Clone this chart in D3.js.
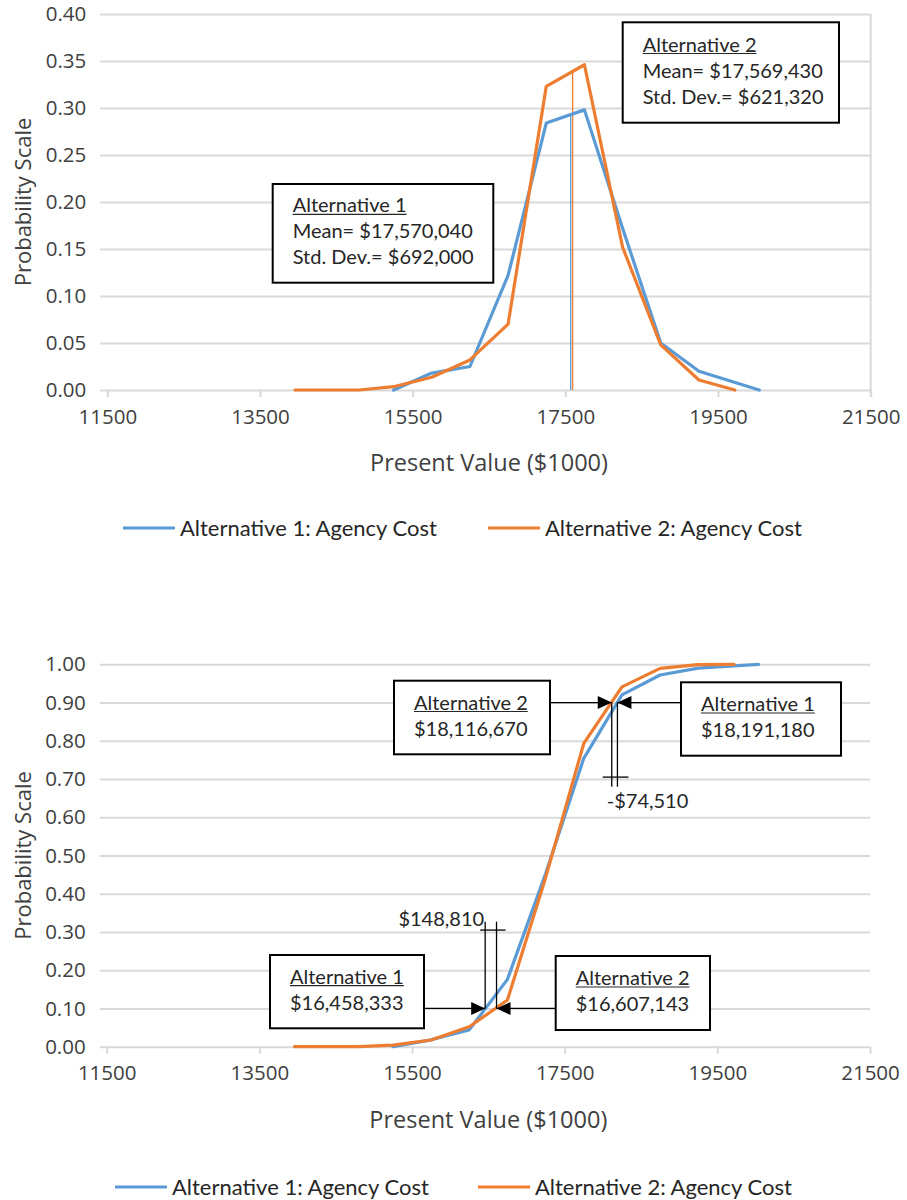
<!DOCTYPE html>
<html>
<head>
<meta charset="utf-8">
<script src="https://cdn.jsdelivr.net/npm/d3@7"></script>
<style>
  body { margin: 0; background: #fff; }
  svg { display: block; }
</style>
</head>
<body>
<svg id="chart" width="907" height="1200"></svg>
<script>
// Present value of agency cost, in $1000
const xTicks = [11500, 13500, 15500, 17500, 19500, 21500];
const pdfTicks = [0, 0.05, 0.10, 0.15, 0.20, 0.25, 0.30, 0.35, 0.40];
const cdfTicks = [0, 0.1, 0.2, 0.3, 0.4, 0.5, 0.6, 0.7, 0.8, 0.9, 1.0];

const seriesNames = ["Alternative 1: Agency Cost", "Alternative 2: Agency Cost"];
const altNames = ["Alternative 1", "Alternative 2"];

// Alternative 1
const alt1X   = [15250, 15750, 16250, 16750, 17250, 17750, 18250, 18750, 19250, 20040];
const alt1Pdf = [0, 0.018, 0.025, 0.122, 0.284, 0.298, 0.172, 0.050, 0.020, 0];
const alt1Cdf = [0, 0.018, 0.044, 0.176, 0.452, 0.754, 0.920, 0.972, 0.990, 1.0];

// Alternative 2
const alt2X   = [13960, 14800, 15250, 15750, 16250, 16750, 17250, 17750, 18250, 18750, 19250, 19720];
const alt2Pdf = [0, 0, 0.0035, 0.0135, 0.032, 0.070, 0.323, 0.346, 0.152, 0.048, 0.0106, 0];
const alt2Cdf = [0, 0, 0.004, 0.0175, 0.052, 0.122, 0.442, 0.793, 0.941, 0.9895, 0.999, 1.0];

// Summary statistics ($1000)
const means = [17570.04, 17569.43];
const stdDevs = [692.0, 621.32];
const p10 = [16458.333, 16607.143];
const p90 = [18191.18, 18116.67];

const colors = ["#5B9BD5", "#ED7D31"];
const axisFont = "'Open Sans', 'Noto Sans', sans-serif";
const noteFont = "Lato, 'Noto Sans', sans-serif";
const textColor = "#404040";

const dollars = v => (v < 0 ? "-" : "") + "$" + d3.format(",")(Math.round(Math.abs(v) * 1000));

const svg = d3.select("#chart");

function buildFrame(cfg) {
  const x = d3.scaleLinear().domain([11500, 21500]).range([cfg.left, cfg.right]);
  const y = d3.scaleLinear().domain([0, cfg.yMax]).range([cfg.bottom, cfg.top]);
  const g = svg.append("g");

  // horizontal gridlines with left tick stubs and labels
  g.append("g")
    .attr("transform", `translate(${cfg.left - 7},0)`)
    .call(d3.axisLeft(y).tickValues(cfg.yTicks).tickFormat(d3.format(".2f"))
      .tickSize(-(cfg.right - cfg.left + 7)).tickPadding(14))
    .call(s => s.select(".domain").remove())
    .call(s => s.selectAll("line").attr("stroke", "#d9d9d9").attr("stroke-width", 2))
    .call(s => s.selectAll("text").attr("font-family", axisFont).attr("font-size", 20.5).attr("fill", textColor));

  // x tick marks and labels
  g.append("g")
    .attr("transform", `translate(0,${cfg.bottom})`)
    .call(d3.axisBottom(x).tickValues(xTicks).tickFormat(d3.format("d"))
      .tickSize(7).tickPadding(12))
    .call(s => s.select(".domain").remove())
    .call(s => s.selectAll("line").attr("stroke", "#d9d9d9").attr("stroke-width", 2))
    .call(s => s.selectAll("text").attr("font-family", axisFont).attr("font-size", 20.5).attr("fill", textColor));

  if (cfg.rightBorder) {
    g.append("line")
      .attr("x1", cfg.right).attr("x2", cfg.right)
      .attr("y1", cfg.top).attr("y2", cfg.bottom + 7)
      .attr("stroke", "#d9d9d9").attr("stroke-width", 2);
  }

  // axis titles
  g.append("text")
    .attr("x", (cfg.left + cfg.right) / 2).attr("y", cfg.bottom + 81)
    .attr("text-anchor", "middle")
    .attr("font-family", axisFont).attr("font-size", 23.5).attr("fill", textColor)
    .text("Present Value ($1000)");
  g.append("text")
    .attr("transform", `translate(31,${(cfg.top + cfg.bottom) / 2}) rotate(-90)`)
    .attr("text-anchor", "middle")
    .attr("font-family", axisFont).attr("font-size", 22).attr("fill", textColor)
    .text("Probability Scale");

  return { g, x, y };
}

function drawSeries(f, xs, ys, color) {
  const line = d3.line().x((d, i) => f.x(xs[i])).y(d => f.y(d));
  f.g.append("path")
    .datum(ys)
    .attr("d", line)
    .attr("fill", "none")
    .attr("stroke", color)
    .attr("stroke-width", 3.2)
    .attr("stroke-linejoin", "round")
    .attr("stroke-linecap", "round");
}

function drawLegend(y, x0, x1) {
  const g = svg.append("g");
  [x0, x1].forEach((lx, i) => {
    g.append("line")
      .attr("x1", lx).attr("x2", lx + 52).attr("y1", y).attr("y2", y)
      .attr("stroke", colors[i]).attr("stroke-width", 3.2);
    g.append("text")
      .attr("x", lx + 57).attr("y", y + 8)
      .attr("font-family", noteFont).attr("font-size", 22).attr("fill", "#262626")
      .text(seriesNames[i]);
  });
}

function noteBox(g, bx, by, bw, bh, lines) {
  g.append("rect")
    .attr("x", bx).attr("y", by).attr("width", bw).attr("height", bh)
    .attr("fill", "#fff").attr("stroke", "#000").attr("stroke-width", 2);
  const tx = bx + 20;
  const first = by + (bh - (lines.length - 1) * 26) / 2 + 5;
  lines.forEach((t, i) => {
    const el = g.append("text")
      .attr("x", tx).attr("y", first + i * 26)
      .attr("font-family", noteFont).attr("font-size", 20).attr("fill", "#262626")
      .text(t);
    if (i === 0) {
      const w = el.node().getComputedTextLength();
      g.append("line")
        .attr("x1", tx).attr("x2", tx + w)
        .attr("y1", first + 2).attr("y2", first + 2)
        .attr("stroke", "#262626").attr("stroke-width", 1.2);
    }
  });
}

function interpAt(xs, ys, v) {
  const i = Math.max(1, d3.bisectLeft(xs, v));
  const t = (v - xs[i - 1]) / (xs[i] - xs[i - 1]);
  return ys[i - 1] + t * (ys[i] - ys[i - 1]);
}

function arrowHead(g, tipX, yy, dir) {
  g.append("path")
    .attr("d", `M${tipX},${yy} L${tipX - dir * 14},${yy - 6.5} L${tipX - dir * 14},${yy + 6.5} Z`)
    .attr("fill", "#000");
}

function thin(g, x1, y1, x2, y2) {
  g.append("line")
    .attr("x1", x1).attr("y1", y1).attr("x2", x2).attr("y2", y2)
    .attr("stroke", "#000").attr("stroke-width", 1.3);
}

// ---------- Probability density ----------
const pdfFrame = buildFrame({ left: 107.3, right: 870.7, top: 14, bottom: 390, yMax: 0.40, yTicks: pdfTicks, rightBorder: true });

// mean markers, from the axis up to each curve (orange nudged so both show)
[[alt1X, alt1Pdf, 0], [alt2X, alt2Pdf, 2]].forEach(([xs, ys, nudge], i) => {
  const mx = pdfFrame.x(means[i]) + nudge;
  pdfFrame.g.append("line")
    .attr("x1", mx).attr("x2", mx)
    .attr("y1", pdfFrame.y(0)).attr("y2", pdfFrame.y(interpAt(xs, ys, means[i])))
    .attr("stroke", colors[i]).attr("stroke-width", 1.3);
});

drawSeries(pdfFrame, alt1X, alt1Pdf, colors[0]);
drawSeries(pdfFrame, alt2X, alt2Pdf, colors[1]);

noteBox(pdfFrame.g, 272.7, 184, 220.6, 98.7,
  [altNames[0], "Mean= " + dollars(means[0]), "Std. Dev.= " + dollars(stdDevs[0])]);
noteBox(pdfFrame.g, 622.7, 22.3, 216.3, 100.4,
  [altNames[1], "Mean= " + dollars(means[1]), "Std. Dev.= " + dollars(stdDevs[1])]);

drawLegend(528, 123, 488);

// ---------- Cumulative probability ----------
const cdfFrame = buildFrame({ left: 106.7, right: 870, top: 664.3, bottom: 1046.7, yMax: 1.0, yTicks: cdfTicks, rightBorder: false });

drawSeries(cdfFrame, alt1X, alt1Cdf, colors[0]);
drawSeries(cdfFrame, alt2X, alt2Cdf, colors[1]);

const ann = cdfFrame.g.append("g");

// 90th percentile
const y90 = cdfFrame.y(0.9);
const a2x90 = cdfFrame.x(p90[1]), a1x90 = cdfFrame.x(p90[0]);
noteBox(ann, 394, 680.7, 156, 73.6, [altNames[1], dollars(p90[1])]);
noteBox(ann, 681, 682.3, 160, 73.4, [altNames[0], dollars(p90[0])]);
thin(ann, 550, y90, a2x90, y90);
arrowHead(ann, a2x90, y90, 1);
thin(ann, 681, y90, a1x90, y90);
arrowHead(ann, a1x90, y90, -1);
thin(ann, a2x90, y90, a2x90, cdfFrame.y(0.68));
thin(ann, a1x90, y90, a1x90, cdfFrame.y(0.68));
thin(ann, a2x90 - 9, cdfFrame.y(0.705), a1x90 + 11, cdfFrame.y(0.705));
ann.append("text")
  .attr("x", a2x90 - 5).attr("y", cdfFrame.y(0.705) + 31)
  .attr("font-family", noteFont).attr("font-size", 20).attr("fill", "#262626")
  .text(dollars(p90[1] - p90[0]));

// 10th percentile
const y10 = cdfFrame.y(0.1);
const a1x10 = cdfFrame.x(p10[0]), a2x10 = cdfFrame.x(p10[1]);
noteBox(ann, 270, 955, 154, 73.3, [altNames[0], dollars(p10[0])]);
noteBox(ann, 555.7, 956, 154.3, 74, [altNames[1], dollars(p10[1])]);
thin(ann, 424, y10, a1x10, y10);
arrowHead(ann, a1x10, y10, 1);
thin(ann, 555.7, y10, a2x10, y10);
arrowHead(ann, a2x10, y10, -1);
thin(ann, a1x10, y10, a1x10, cdfFrame.y(0.327));
thin(ann, a2x10, y10, a2x10, cdfFrame.y(0.327));
thin(ann, a1x10 - 5, cdfFrame.y(0.305), a2x10 + 9, cdfFrame.y(0.305));
ann.append("text")
  .attr("x", a1x10 - 1).attr("y", cdfFrame.y(0.305) - 4)
  .attr("text-anchor", "end")
  .attr("font-family", noteFont).attr("font-size", 20).attr("fill", "#262626")
  .text(dollars(p10[1] - p10[0]));

drawLegend(1187, 115, 478);
</script>
</body>
</html>
